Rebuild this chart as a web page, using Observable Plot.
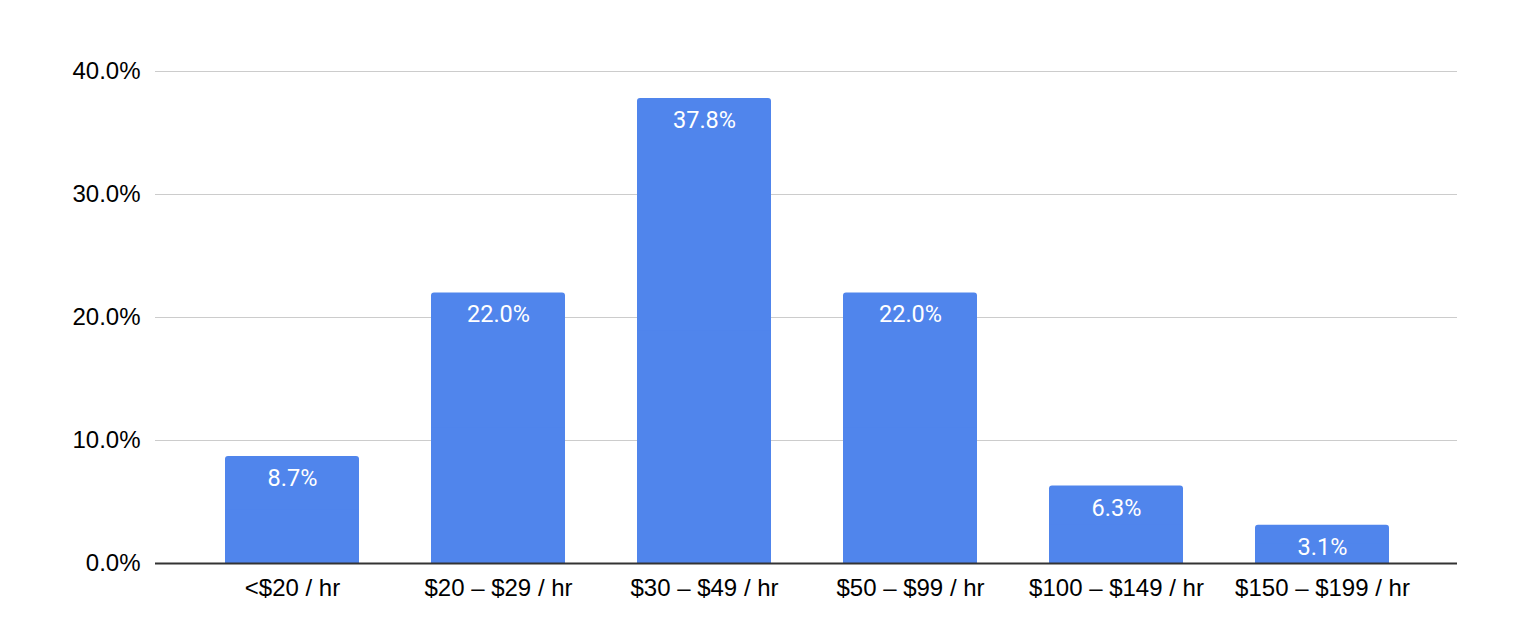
<!DOCTYPE html>
<html>
<head>
<meta charset="utf-8">
<script src="https://cdn.jsdelivr.net/npm/d3@7"></script>
<script src="https://cdn.jsdelivr.net/npm/@observablehq/plot@0.6"></script>
<style>
  html, body { margin: 0; padding: 0; background: #fff; }
  #chart svg { display: block; }
</style>
</head>
<body>
<div id="chart"></div>
<script>
const categories = ["<$20 / hr", "$20 – $29 / hr", "$30 – $49 / hr", "$50 – $99 / hr", "$100 – $149 / hr", "$150 – $199 / hr"];
const values = [8.7, 22.0, 37.8, 22.0, 6.3, 3.1];
const yTicks = [0, 10, 20, 30, 40];

const data = categories.map((c, i) => ({category: c, value: values[i]}));
const barColor = "#5085EC";
const axisFont = "'Liberation Sans', Arial, Helvetica, sans-serif";

const chart = Plot.plot({
  width: 1522,
  height: 640,
  marginTop: 71,
  marginBottom: 77,
  marginLeft: 155,
  marginRight: 65,
  style: {fontFamily: axisFont, fontSize: "24px", color: "#000", background: "#fff"},
  x: {domain: categories, range: [156, 1458], round: true, paddingInner: 0.35, paddingOuter: 0.335, label: null},
  y: {domain: [0, 40], label: null},
  marks: [
    Plot.ruleY(yTicks.filter(t => t > 0), {stroke: "#cccccc", strokeWidth: 1.2}),
    Plot.axisY({ticks: yTicks, tickSize: 0, tickPadding: 15, tickFormat: d => d.toFixed(1) + "%", fontSize: 24, fill: "#000"}),
    Plot.axisX({tickSize: 0, tickPadding: 15, fontSize: 24, fill: "#000"}),
    Plot.barY(data, {x: "category", y: "value", fill: barColor, rx: 3}),
    Plot.barY(data, {x: "category", y1: 0, y2: d => d.value / 2, fill: barColor}),
    Plot.ruleY([0], {stroke: "#333333", strokeWidth: 1.8}),
    Plot.text(data, {x: "category", y: "value", text: d => d.value.toFixed(1) + "%", dy: 22, fill: "#fff", fontSize: 23.5, fontFamily: "Roboto, sans-serif"})
  ]
});
document.getElementById("chart").appendChild(chart);
</script>
</body>
</html>
